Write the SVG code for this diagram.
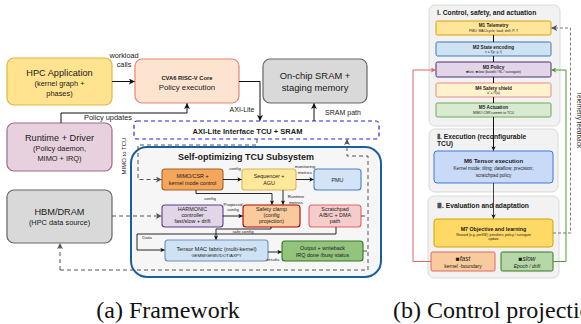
<svg xmlns="http://www.w3.org/2000/svg" width="581" height="324" viewBox="0 0 581 324">
  <defs>
    <style>
      text { font-family: "Liberation Sans", Arial, sans-serif; fill: #1a1a1a; }
      .c { text-anchor: middle; }
      .b { font-weight: bold; }
      .it { font-style: italic; }
      .big { font-size: 9.2px; }
      .mid { font-size: 7.4px; }
      .sm { font-size: 5.4px; }
      .xs { font-size: 4.4px; }
      .lbl { font-size: 7.3px; }
      .box { stroke-width: 1.2; }
      .inner { stroke-width: 1.1; }
      .wire { fill: none; stroke: #111; stroke-width: 1; }
      .wire-s { fill: none; stroke: #111; stroke-width: 0.9; }
      .dash { fill: none; stroke: #555; stroke-width: 1; stroke-dasharray: 4 3; }
      .grp { fill: #f2f2f2; stroke: #d9d9d9; stroke-width: 1; }
      .gt { font-size: 6.7px; font-weight: bold; }
      .mt { font-size: 4.7px; font-weight: bold; }
      .ms { font-size: 3.4px; }
      .cap { font-family: "Liberation Serif", "Times New Roman", serif; font-size: 24px; fill: #111; }
    </style>
    <marker id="ah" viewBox="0 0 6 6" refX="5.6" refY="3" markerWidth="6" markerHeight="6" markerUnits="userSpaceOnUse" orient="auto">
      <path d="M0,0 L6,3 L0,6 L1.5,3 z" fill="#111"/>
    </marker>
    <marker id="ahs" viewBox="0 0 6 6" refX="5.6" refY="3" markerWidth="4.5" markerHeight="4.5" markerUnits="userSpaceOnUse" orient="auto">
      <path d="M0,0 L6,3 L0,6 L1.5,3 z" fill="#111"/>
    </marker>
    <marker id="ahg" viewBox="0 0 6 6" refX="5.6" refY="3" markerWidth="6" markerHeight="6" markerUnits="userSpaceOnUse" orient="auto">
      <path d="M0,0 L6,3 L0,6 L1.5,3 z" fill="#555"/>
    </marker>
    <marker id="ahr" viewBox="0 0 6 6" refX="5.6" refY="3" markerWidth="5" markerHeight="5" markerUnits="userSpaceOnUse" orient="auto">
      <path d="M0,0 L6,3 L0,6 L1.5,3 z" fill="#e06666"/>
    </marker>
    <marker id="ahgr" viewBox="0 0 6 6" refX="5.6" refY="3" markerWidth="5" markerHeight="5" markerUnits="userSpaceOnUse" orient="auto">
      <path d="M0,0 L6,3 L0,6 L1.5,3 z" fill="#4e9a2c"/>
    </marker>
  </defs>

  <rect width="581" height="324" fill="#fff"/>

  <!-- ===== Framework ===== -->
  <g id="tcu-subsystem">
    <rect x="131" y="147" width="250" height="130" rx="16" fill="#f6f6f6" stroke="#1b5e9e" stroke-width="2"/>
    <text class="c b" x="246" y="160" font-size="9px">Self-optimizing TCU Subsystem</text>
  </g>

  <g id="hpc-app">
    <rect class="box" x="7" y="58" width="105" height="47" rx="7" fill="#ffe38f" stroke="#e0b640"/>
    <text class="c big" x="59.5" y="75.5">HPC Application</text>
    <text class="c mid" x="59.5" y="85.5">(kernel graph +</text>
    <text class="c mid" x="59.5" y="95.5">phases)</text>
  </g>

  <g id="cva6">
    <rect class="box" x="135" y="59" width="104" height="44" rx="7" fill="#fde4d0" stroke="#e8847b"/>
    <text class="c b" x="187" y="80" font-size="5.8px">CVA6 RISC-V Core</text>
    <text class="c" x="187" y="89.5" font-size="7.8px">Policy execution</text>
  </g>

  <g id="sram">
    <rect class="box" x="263" y="59" width="104" height="44" rx="7" fill="#d9d9d9" stroke="#666"/>
    <text class="c" x="315" y="78.5" font-size="9.4px">On-chip SRAM +</text>
    <text class="c" x="315" y="91" font-size="9.4px">staging memory</text>
  </g>

  <g id="runtime">
    <rect class="box" x="7" y="123" width="105" height="48" rx="7" fill="#e7d1df" stroke="#a2668f"/>
    <text class="c big" x="59.5" y="140.5">Runtime + Driver</text>
    <text class="c mid" x="59.5" y="151">(Policy daemon,</text>
    <text class="c mid" x="59.5" y="161">MIMO + IRQ)</text>
  </g>

  <g id="hbm">
    <rect class="box" x="7" y="190" width="105" height="53" rx="7" fill="#d9d9d9" stroke="#666"/>
    <text class="c big" x="59.5" y="215">HBM/DRAM</text>
    <text class="c mid" x="59.5" y="224.5">(HPC data source)</text>
  </g>

  <g id="axi">
    <rect x="134" y="121" width="245" height="18" rx="3" fill="#fff" stroke="#2323e6" stroke-width="1.2" stroke-dasharray="4 3"/>
    <text class="c b" x="247.5" y="133.5" font-size="7.5px">AXI-Lite Interface TCU + SRAM</text>
  </g>

  <g id="mimo-csr">
    <rect class="inner" x="162" y="169" width="61" height="21" rx="3" fill="#f5a65b" stroke="#a0622a"/>
    <text class="c sm" x="192.5" y="177.5">MIMO/CSR +</text>
    <text class="c sm" x="192.5" y="185">kernel mode control</text>
  </g>

  <g id="sequencer">
    <rect class="inner" x="242" y="169" width="54" height="21" rx="3" fill="#ffe89a" stroke="#d6b656"/>
    <text class="c sm" x="269" y="177.5">Sequencer +</text>
    <text class="c sm" x="269" y="185">AGU</text>
  </g>

  <g id="pmu">
    <rect class="inner" x="314" y="169" width="47" height="21" rx="3" fill="#d4e4f7" stroke="#4a7fc1"/>
    <text class="c sm" x="337.5" y="181.5">PMU</text>
  </g>

  <g id="harmonic">
    <rect class="inner" x="162" y="205" width="61" height="22" rx="3" fill="#e1d5e7" stroke="#5b3f8c"/>
    <text class="c sm" x="192.5" y="211">HARMONIC</text>
    <text class="c sm" x="192.5" y="217.2">controller</text>
    <text class="c sm" x="192.5" y="223.4">fast/slow + drift</text>
  </g>

  <g id="safety-clamp">
    <rect class="inner" x="243" y="205" width="57" height="22" rx="3" fill="#f9cb9c" stroke="#b30000"/>
    <text class="c sm" x="271.5" y="211">Safety clamp</text>
    <text class="c sm" x="271.5" y="217.2">(config</text>
    <text class="c sm" x="271.5" y="223.4">projection)</text>
  </g>

  <g id="scratchpad">
    <rect class="inner" x="309" y="205" width="52" height="22" rx="3" fill="#f4cccc" stroke="#e06666"/>
    <text class="c sm" x="335" y="211">Scratchpad</text>
    <text class="c sm" x="335" y="217.2">A/B/C + DMA</text>
    <text class="c sm" x="335" y="223.4">path</text>
  </g>

  <g id="tensor-mac">
    <rect class="inner" x="165" y="240" width="103" height="21" rx="3" fill="#cfe2f3" stroke="#6c8ebf"/>
    <text class="c" x="216.5" y="250.5" font-size="5.6px">Tensor MAC fabric (multi-kernel)</text>
    <text class="c" x="216.5" y="257" font-size="4.3px">GEMM/GEMV/DOT/AXPY</text>
  </g>

  <g id="output">
    <rect class="inner" x="282" y="241" width="81" height="20" rx="3" fill="#93c47d" stroke="#38761d"/>
    <text class="c sm" x="322.5" y="250">Output + writeback</text>
    <text class="c sm" x="322.5" y="257">IRQ done /busy status</text>
  </g>

  <g id="connectors-a">
    <!-- control / data wires -->
    <path class="wire" d="M112,81.5 H134.5" marker-end="url(#ah)"/>
    <text class="c lbl" x="124" y="57.5">workload</text>
    <text class="c lbl" x="124" y="66.5">calls</text>

    <path class="wire" d="M239,81.5 H260 V120.5" marker-end="url(#ah)"/>
    <text class="c" x="242" y="111.5" font-size="7px">AXI-Lite</text>

    <path class="wire" d="M314,121 V103.5" marker-end="url(#ah)"/>
    <text class="c" x="343" y="115" font-size="7px">SRAM path</text>

    <path class="wire" d="M61,123 V113 H187 V103.5" marker-end="url(#ah)"/>
    <text class="c" x="108" y="120" font-size="7.4px">Policy updates</text>

    <!-- MIMO to TCU (dashed) -->
    <path class="dash" d="M257,139 V145 H138 V179.5 H161.5" marker-end="url(#ahg)"/>
    <text class="c" transform="translate(126,156) rotate(-90)" font-size="6px">MIMO to TCU</text>

    <!-- HBM data feed -->
    <path class="dash" d="M112,216 H161.5" marker-end="url(#ahg)"/>

    <!-- result / status return bus -->
    <path class="dash" d="M60,270 V243.5"  marker-end="url(#ahg)"/>
    <path class="dash" d="M60,270 H368 V156 H347 V139.5" marker-end="url(#ahg)"/>
    <path class="dash" d="M361,216 H368"/>
    <path class="dash" d="M363,251 H368"/>

    <!-- inside the subsystem -->
    <path class="wire-s" d="M223,179.5 H241.5" marker-end="url(#ahs)"/>
    <text class="c xs" x="235" y="170">config</text>

    <path class="wire-s" d="M296,179.5 H313.5" marker-end="url(#ahs)"/>
    <text class="c xs" x="305" y="167.5">monitoring</text>
    <text class="c xs" x="305" y="173.5">metrics</text>

    <path class="wire-s" d="M196,190 V193.5 H272 V204.5" marker-end="url(#ahs)"/>
    <text class="c xs" x="210" y="199.5">config</text>

    <path class="wire-s" d="M283,190 V204.5" marker-end="url(#ahs)"/>
    <text class="c xs" x="296" y="198">Runtime</text>
    <text class="c xs" x="296" y="203.5">metrics</text>

    <path class="wire-s" d="M223,216 H242.5" marker-end="url(#ahs)"/>
    <text class="c xs" x="233" y="205.5">Proposed</text>
    <text class="c xs" x="233" y="211">config</text>

    <path class="wire-s" d="M271,227 V229 H216 V239.5" marker-end="url(#ahs)"/>
    <text class="c xs" x="243" y="232.8">safe config</text>

    <path class="wire-s" d="M336,227 V234 H137 V250 H164.5" marker-end="url(#ahs)"/>
    <text class="c xs" x="147" y="239">Data</text>

    <path class="wire-s" d="M268,252 H281.5" marker-end="url(#ahs)"/>
    <text class="c xs" x="273" y="260.5">results</text>
  </g>

  <!-- ===== Control projection ===== -->
  <g id="group-1">
    <rect class="grp" x="429" y="5" width="131" height="121" rx="6"/>
    <text class="gt" x="437" y="14.5">Ⅰ. Control, safety, and actuation</text>
  </g>

  <g id="m1">
    <rect x="436" y="21" width="115" height="14" rx="1.5" fill="#ffe599" stroke="#d6a000" stroke-width="1"/>
    <text class="c mt" x="493.5" y="27.3">M1 Telemetry</text>
    <text class="c ms" x="493.5" y="31.8">PMU; MAC/cycle; load; drift; P, T</text>
  </g>
  <g id="m2">
    <rect x="436" y="42" width="115" height="14" rx="1.5" fill="#cfe2f3" stroke="#3d78b5" stroke-width="1"/>
    <text class="c mt" x="493.5" y="48.5">M2 State encoding</text>
    <text class="c ms" x="493.5" y="53">s = f(p, y, t)</text>
  </g>
  <g id="m3">
    <rect x="436" y="62" width="115" height="15" rx="1.5" fill="#e1d5e7" stroke="#4c2f7a" stroke-width="1"/>
    <text class="c mt" x="493.5" y="68.5">M3 Policy</text>
    <text class="c ms" x="493.5" y="73.3">■fast, ■slow (bandit / RL / surrogate)</text>
  </g>
  <g id="m4">
    <rect x="436" y="83" width="115" height="14" rx="1.5" fill="#fff2cc" stroke="#ea8b87" stroke-width="1"/>
    <text class="c mt" x="493.5" y="89.5">M4 Safety shield</text>
    <text class="c ms" x="493.5" y="94">a′ = Π(a)</text>
  </g>
  <g id="m5">
    <rect x="436" y="103" width="115" height="14" rx="1.5" fill="#d9ead3" stroke="#6aa84f" stroke-width="1"/>
    <text class="c mt" x="493.5" y="109.2">M5 Actuation</text>
    <text class="c ms" x="493.5" y="114">MIMO CSR commit to TCU</text>
  </g>

  <g id="group-2">
    <rect class="grp" x="429" y="129" width="129" height="63" rx="6"/>
    <text class="gt" x="437" y="138.5">Ⅱ. Execution (reconfigurable</text>
    <text class="gt" x="437" y="146">TCU)</text>
  </g>

  <g id="m6">
    <rect x="434" y="151" width="119" height="32" rx="3" fill="#c9daf8" stroke="#3c78d8" stroke-width="1"/>
    <text class="c b" x="493.5" y="162.8" font-size="6px">M6 Tensor execution</text>
    <text class="c" x="493.5" y="170" font-size="4.6px">Kernel mode; tiling; dataflow; precision;</text>
    <text class="c" x="493.5" y="176.7" font-size="4.6px">scratchpad policy</text>
  </g>

  <g id="group-3">
    <rect class="grp" x="428" y="196" width="131" height="82" rx="6"/>
    <text class="gt" x="437" y="208">Ⅲ. Evaluation and adaptation</text>
  </g>

  <g id="m7">
    <rect x="434" y="219" width="119" height="28" rx="3" fill="#ffd966" stroke="#d6a400" stroke-width="1"/>
    <text class="c b" x="493.5" y="231" font-size="5.3px">M7 Objective and learning</text>
    <text class="c ms" x="493.5" y="235.5">Reward (e.g. perf/W); penalties; policy / surrogate</text>
    <text class="c ms" x="493.5" y="239.7">update</text>
  </g>

  <g id="fast">
    <rect x="431" y="252" width="64" height="19" rx="1.5" fill="#f9cb9c" stroke="#e06666" stroke-width="1"/>
    <text class="c it" x="463" y="261.3" font-size="6.5px">■fast</text>
    <text class="c" x="463" y="268" font-size="5px">kernel -boundary</text>
  </g>

  <g id="slow">
    <rect x="501" y="252" width="52" height="19" rx="1.5" fill="#b6d7a8" stroke="#38761d" stroke-width="1"/>
    <text class="c it" x="527" y="261.3" font-size="6.5px">■slow</text>
    <text class="c it" x="527" y="268" font-size="5px">Epoch / drift</text>
  </g>

  <g id="connectors-b">
    <path class="wire" d="M493.5,35 V42 M493.5,56 V62 M493.5,77 V83 M493.5,97 V103"/>
    <path class="wire" d="M493.5,117 V150.5" marker-end="url(#ahs)"/>
    <path d="M493.5,183 V218.5" fill="none" stroke="#444" stroke-width="1" marker-end="url(#ahs)"/>
    <path d="M431,261.5 H413 V70 H435.5" fill="none" stroke="#e06666" stroke-width="1" marker-end="url(#ahr)"/>
    <path d="M553,261.5 H566 V70 H551.5" fill="none" stroke="#4e9a2c" stroke-width="1" marker-end="url(#ahgr)"/>
    <path d="M553,233 H570.5 V28 H551.5" fill="none" stroke="#777" stroke-width="1" stroke-dasharray="3 2" marker-end="url(#ahg)"/>
    <text class="c" transform="translate(576.5,120) rotate(90)" font-size="6.5px">Telemetry feedback</text>
  </g>

  <!-- captions -->
  <text class="cap c" x="168" y="317.5">(a) Framework</text>
  <text class="cap" x="393" y="317.5">(b) Control projection</text>
</svg>
